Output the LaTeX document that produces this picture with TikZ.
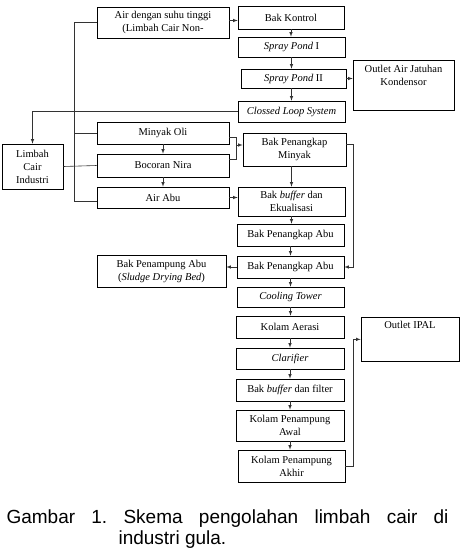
\documentclass[tikz,border=0pt]{standalone}
\usepackage{fontspec}
\setmainfont{Liberation Serif}
\newfontfamily\capfont{Liberation Sans}
\usetikzlibrary{arrows,calc}
\tikzset{box/.style={draw, line width=0.7pt, inner sep=1pt, align=center, font=\fontsize{10.5}{13}\selectfont}}
\tikzset{topbox/.style={box, anchor=north}}
\tikzset{edge/.style={line width=0.6pt, draw=black!80}}
\tikzset{arc/.style={edge, -latex}}
\begin{document}
\frenchspacing
\begin{tikzpicture}
[x=1pt, y=-1pt]
\useasboundingbox (0,0) rectangle (462,554);
%sources on the left
\node (limbah) at (32.5,166.5)[box, minimum width=61pt, minimum height=45pt]{Limbah\\Cair\\Industri};
\node (air) at (163,22.5)[box, minimum width=132pt, minimum height=31pt]{Air dengan suhu tinggi\\(Limbah Cair Non-};
\node (oli) at (163,133)[box, minimum width=132pt, minimum height=22pt]{Minyak Oli};
\node (nira) at (163,165.5)[box, minimum width=132pt, minimum height=23pt]{Bocoran Nira};
\node (abu) at (163,197.5)[box, minimum width=132pt, minimum height=21pt]{Air Abu};
\node (sludge) at (161.5,271)[box, minimum width=129pt, minimum height=32pt]{Bak Penampung Abu\\(\textit{Sludge Drying Bed})};
%cooling water line
\node (kontrol) at (291,17.5)[box, minimum width=106pt, minimum height=23pt]{Bak Kontrol};
\node (sp1) at (291.5,47)[box, minimum width=107pt, minimum height=20pt]{\textit{Spray Pond} I};
\node (sp2) at (293.5,78.5)[box, minimum width=105pt, minimum height=19pt]{\textit{Spray Pond} II};
\node (closed) at (291.5,111.5)[box, minimum width=107pt, minimum height=21pt]{\textit{Clossed Loop System}};
\node (jatuhan) at (403.5,60)[topbox, minimum width=101pt, text height=24pt, text depth=24pt]{Outlet Air Jatuhan\\Kondensor};
%treatment line
\node (minyak) at (294.5,149.5)[box, minimum width=103pt, minimum height=33pt]{Bak Penangkap\\Minyak};
\node (ekual) at (291.5,201.5)[box, minimum width=107pt, minimum height=29pt]{Bak \textit{buffer} dan\\Ekualisasi};
\node (pabu1) at (290.5,235)[box, minimum width=107pt, minimum height=22pt]{Bak Penangkap Abu};
\node (pabu2) at (290.5,267)[box, minimum width=107pt, minimum height=22pt]{Bak Penangkap Abu};
\node (cooling) at (290.5,297)[box, minimum width=107pt, minimum height=20pt]{\textit{Cooling Tower}};
\node (aerasi) at (290,327)[box, minimum width=108pt, minimum height=22pt]{Kolam Aerasi};
\node (clarifier) at (290,358.5)[box, minimum width=108pt, minimum height=21pt]{\textit{Clarifier}};
\node (filter) at (290,390)[box, minimum width=108pt, minimum height=22pt]{Bak \textit{buffer} dan filter};
\node (awal) at (290,425.5)[box, minimum width=108pt, minimum height=31pt]{Kolam Penampung\\Awal};
\node (akhir) at (291.5,466)[box, minimum width=107pt, minimum height=32pt]{Kolam Penampung\\Akhir};
\node (ipal) at (410,317)[topbox, minimum width=98pt, text height=10.5pt, text depth=31.5pt]{Outlet IPAL};
\coordinate (jn) at (236,145);
%connectors
\draw[edge] (limbah.east)--(nira.west);
\draw[edge] (air.west)--++(-22,0)|-([yshift=-4pt]abu.west);
\draw[edge] (oli.west)--++(-22,0);
\draw[arc] (closed.west)-|(limbah.north);
\draw[arc] ([yshift=2pt]air.east)--([yshift=2pt]air.east -| kontrol.west);
\draw[arc] (kontrol.south)--(kontrol.south |- sp1.north);
\draw[arc] (sp1.south)--(sp1.south |- sp2.north);
\draw[arc] (sp1.south |- sp2.south)--(sp1.south |- closed.north);
\draw[arc] (sp2.east)--(sp2.east -| jatuhan.west);
\draw[arc] (oli.south)--(nira.north);
\draw[arc] (nira.south)--(abu.north);
\draw[edge] ([yshift=-4pt]oli.east)-|(jn);
\draw[edge] ([yshift=6pt]nira.east)-|(jn);
\draw[arc] (jn)--(jn -| minyak.west);
\draw[arc] (abu.east)--(abu.east -| ekual.west);
\draw[arc] (ekual.north |- minyak.south)--(ekual.north);
\draw[arc] ([yshift=5pt]minyak.east)--++(7,0)|-(pabu2.east);
\draw[arc] (ekual.south)--(ekual.south |- pabu1.north);
\draw[arc] (pabu1.south)--(pabu2.north);
\draw[arc] (pabu2.west)--(pabu2.west -| sludge.east);
\draw[arc] (pabu2.south)--(cooling.north);
\draw[arc] (cooling.south)--(cooling.south |- aerasi.north);
\draw[arc] (aerasi.south)--(clarifier.north);
\draw[arc] (clarifier.south)--(filter.north);
\draw[arc] (filter.south)--(awal.north);
\draw[arc] (awal.south)--(awal.south |- akhir.north);
\draw[arc] (akhir.east)--++(8,0)|-(ipal.west);
%caption
\node (cap) at (3,544)[anchor=base west, align=left, font=\capfont\fontsize{19}{21}\selectfont]{\makebox[442pt][s]{Gambar 1. Skema pengolahan limbah cair di}\\\hspace*{112pt}industri gula.};
\end{tikzpicture}
\end{document}
